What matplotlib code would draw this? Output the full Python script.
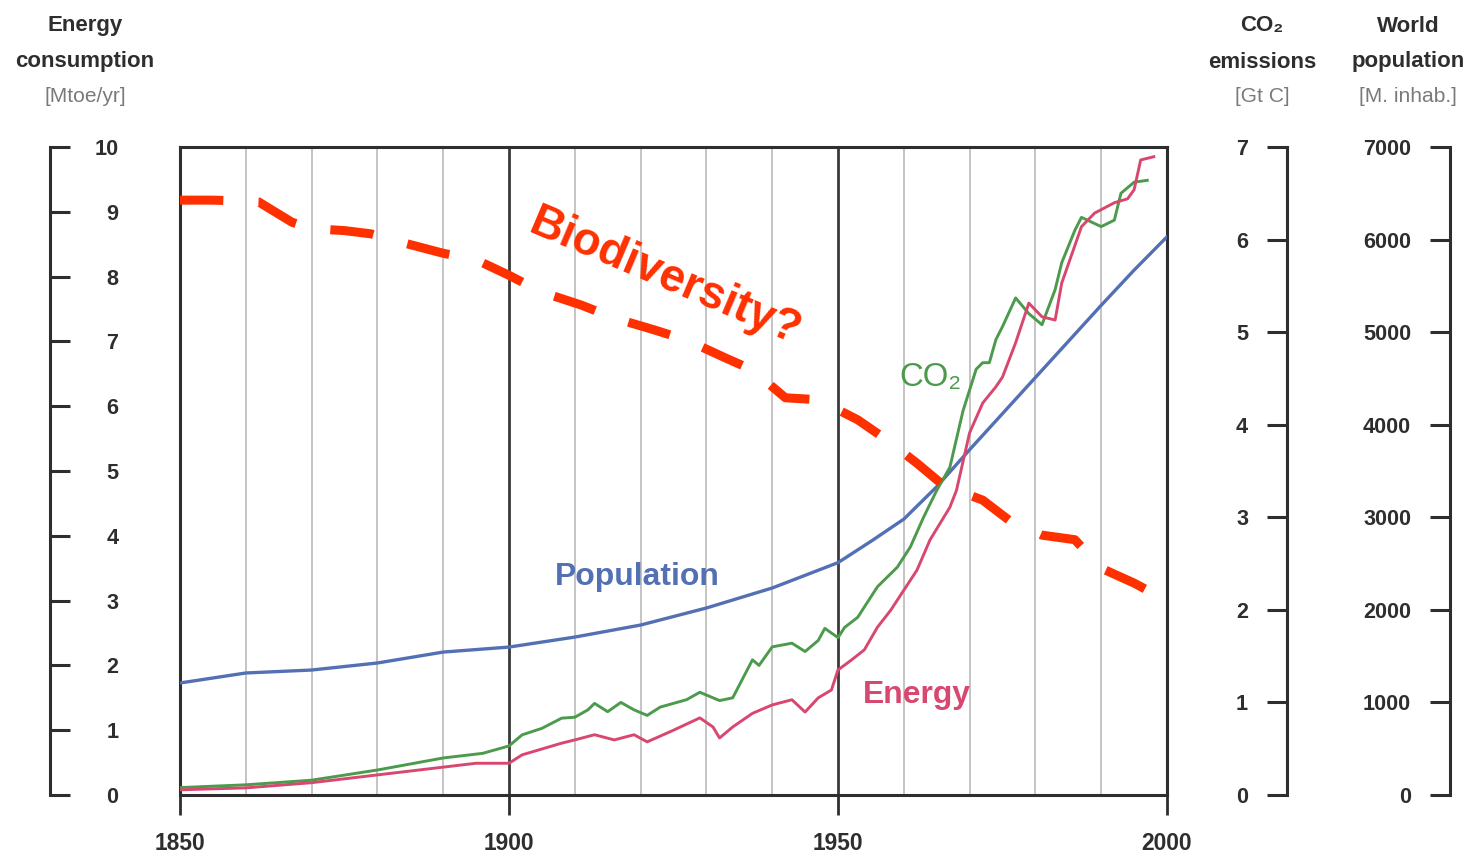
import matplotlib
matplotlib.use("Agg")
import matplotlib.pyplot as plt
from matplotlib import font_manager as fm

# ---- data ----
pop_years = [1850, 1860, 1870, 1880, 1890, 1900, 1910, 1920, 1930, 1940, 1950,
             1955, 1960, 1965, 1970, 1975, 1980, 1985, 1990, 1995, 2000]
pop_mill = [1210, 1318, 1350, 1426, 1544, 1598, 1706, 1836, 2020, 2236, 2510,
            2740, 2980, 3330, 3730, 4120, 4510, 4900, 5290, 5670, 6030]

co2_years = [1850, 1860, 1870, 1880, 1890, 1896, 1900, 1902, 1905, 1908, 1910,
             1912, 1913, 1915, 1917, 1919, 1921, 1923, 1925, 1927, 1929, 1932,
             1934, 1937, 1938, 1940, 1943, 1945, 1947, 1948, 1950, 1951, 1953,
             1956, 1959, 1961, 1963, 1965, 1967, 1969, 1971, 1972, 1973, 1974,
             1975, 1977, 1979, 1981, 1983, 1984, 1986, 1987, 1990, 1992, 1993,
             1995, 1997]
co2_gtc = [0.08, 0.11, 0.16, 0.27, 0.40, 0.45, 0.53, 0.65, 0.72, 0.83, 0.84,
           0.92, 0.99, 0.90, 1.00, 0.92, 0.86, 0.95, 0.99, 1.03, 1.11, 1.02,
           1.05, 1.46, 1.40, 1.60, 1.64, 1.55, 1.67, 1.80, 1.70, 1.81, 1.92,
           2.25, 2.46, 2.68, 3.00, 3.29, 3.54, 4.15, 4.60, 4.67, 4.67, 4.92,
           5.06, 5.37, 5.20, 5.08, 5.46, 5.75, 6.10, 6.24, 6.14, 6.21, 6.50,
           6.62, 6.64]

energy_years = [1850, 1860, 1870, 1880, 1890, 1895, 1900, 1902, 1906, 1908,
                1910, 1913, 1916, 1919, 1921, 1925, 1929, 1931, 1932, 1934,
                1937, 1940, 1943, 1945, 1947, 1949, 1950, 1952, 1954, 1956,
                1958, 1960, 1962, 1964, 1967, 1968, 1970, 1972, 1974, 1975,
                1977, 1979, 1981, 1983, 1984, 1987, 1989, 1992, 1994, 1995,
                1996, 1998]
energy = [0.08, 0.11, 0.19, 0.31, 0.43, 0.49, 0.49, 0.62, 0.74, 0.80,
          0.85, 0.93, 0.85, 0.93, 0.82, 1.00, 1.19, 1.05, 0.88, 1.05,
          1.26, 1.39, 1.47, 1.28, 1.50, 1.62, 1.93, 2.08, 2.24, 2.59,
          2.85, 3.16, 3.47, 3.94, 4.44, 4.70, 5.59, 6.05, 6.30, 6.45,
          6.98, 7.59, 7.38, 7.33, 7.90, 8.77, 8.98, 9.14, 9.20, 9.34,
          9.80, 9.85]

bio_years = [1850, 1855, 1858, 1862, 1867, 1870, 1875, 1879, 1884, 1890, 1895,
             1900, 1905, 1911, 1916, 1922, 1927, 1933, 1937, 1942, 1947, 1953,
             1957, 1962, 1966, 1972, 1976, 1981, 1986, 1990, 1995, 2000]
biodiversity = [9.18, 9.18, 9.17, 9.15, 8.84, 8.74, 8.71, 8.66, 8.52, 8.36, 8.26,
                8.02, 7.76, 7.56, 7.36, 7.18, 7.02, 6.74, 6.56, 6.13, 6.10, 5.79,
                5.51, 5.12, 4.78, 4.55, 4.24, 4.01, 3.94, 3.50, 3.27, 3.00]

year_ticks = [1850, 1900, 1950, 2000]
energy_ticks = list(range(0, 11))
co2_ticks = list(range(0, 8))
pop_ticks = list(range(0, 7001, 1000))

# ---- fonts ----
avail = {f.name for f in fm.fontManager.ttflist}
if 'Liberation Sans Narrow' in avail:
    COND, K = 'Liberation Sans Narrow', 1.0
else:
    COND, K = 'Liberation Sans', 0.82
FAM = [COND, 'DejaVu Sans']

DARK = '#2e2e2e'
BLUE = '#5470b4'
GREEN = '#4c9a4c'
PINK = '#d8476f'
RED = '#ff3000'

W, H = 1474, 863
fig = plt.figure(figsize=(W / 100, H / 100), dpi=100)
ax = fig.add_axes([180 / W, 1 - 795 / H, 987 / W, 648 / H])
ax.set_xlim(1850, 2000)
ax.set_ylim(0, 10)
ax.set_yticks([])
ax.set_xticks(year_ticks)
ax.set_xticks([y for y in range(1860, 2000, 10) if y % 50], minor=True)
ax.grid(which='major', axis='x', color='#3a3a3a', lw=2.0)
ax.grid(which='minor', axis='x', color='#c4c4c4', lw=1.4)
ax.tick_params(which='minor', length=0)
ax.tick_params(axis='x', which='major', direction='out', length=14.4, width=2.0,
               color=DARK, pad=12, labelsize=20 * K, labelcolor=DARK)
for lbl in ax.get_xticklabels():
    lbl.set_fontweight('bold')
    lbl.set_family(FAM)
for s in ax.spines.values():
    s.set_color(DARK)
    s.set_linewidth(2.2)


def scale_axis(lo, hi, ticks, side, pos, pad, ha):
    a = ax.twinx()
    a.set_ylim(lo, hi)
    a.set_yticks(ticks)
    for name, sp in a.spines.items():
        sp.set_visible(name == side)
    a.spines[side].set_position(('axes', pos))
    a.spines[side].set_color(DARK)
    a.spines[side].set_linewidth(2.2)
    if side == 'left':
        a.yaxis.tick_left()
    else:
        a.yaxis.tick_right()
    a.tick_params(axis='y', direction='out', length=14.4, width=2.2, color=DARK,
                  pad=pad, labelsize=19 * K, labelcolor=DARK)
    for lbl in a.get_yticklabels():
        lbl.set_fontweight('bold')
        lbl.set_family(FAM)
        lbl.set_horizontalalignment(ha)
    return a


ax_p = scale_axis(0, 7000, pop_ticks, 'left', (1450 - 180) / 987, 13.5, 'right')
ax_c = scale_axis(0, 7, co2_ticks, 'left', (1287 - 180) / 987, 13.5, 'right')
ax_e = scale_axis(0, 10, energy_ticks, 'right', (50 - 180) / 987, 35, 'right')

ax_p.plot(pop_years, pop_mill, color=BLUE, lw=2.4)
ax_c.plot(co2_years, co2_gtc, color=GREEN, lw=2.1)
ax_e.plot(energy_years, energy, color=PINK, lw=2.1)
ax_e.plot(bio_years, biodiversity, color=RED, lw=6.5, dashes=(4.8, 3.9))

ax_e.text(1919.5, 3.36, 'Population', color=BLUE, fontsize=28 * K,
          fontweight='bold', family=FAM, ha='center', va='center')
ax_e.text(1962, 1.54, 'Energy', color=PINK, fontsize=28 * K,
          fontweight='bold', family=FAM, ha='center', va='center')
ax_e.text(1964, 6.45, 'CO\u2082', color=GREEN, fontsize=29 * K,
          family=FAM, ha='center', va='center')
ax_e.text(1923.7, 7.98, 'Biodiversity?', color=RED, fontsize=33,
          fontweight='bold', family=['Liberation Sans', 'DejaVu Sans'],
          ha='center', va='center', rotation=-23, rotation_mode='anchor')

headers = [
    (85, ['Energy', 'consumption', '[Mtoe/yr]']),
    (1262, ['CO\u2082', 'emissions', '[Gt C]']),
    (1408, ['World', 'population', '[M. inhab.]']),
]
for xc, lines in headers:
    for i, (txt, yc) in enumerate(zip(lines, [26, 62, 97])):
        fig.text(xc / W, 1 - yc / H, txt, ha='center', va='center',
                 fontsize=(19.5 if i < 2 else 18.5) * K, family=FAM,
                 fontweight='bold' if i < 2 else 'normal',
                 color=DARK if i < 2 else '#7a7a7a')

fig.savefig('out.png', dpi=100)
